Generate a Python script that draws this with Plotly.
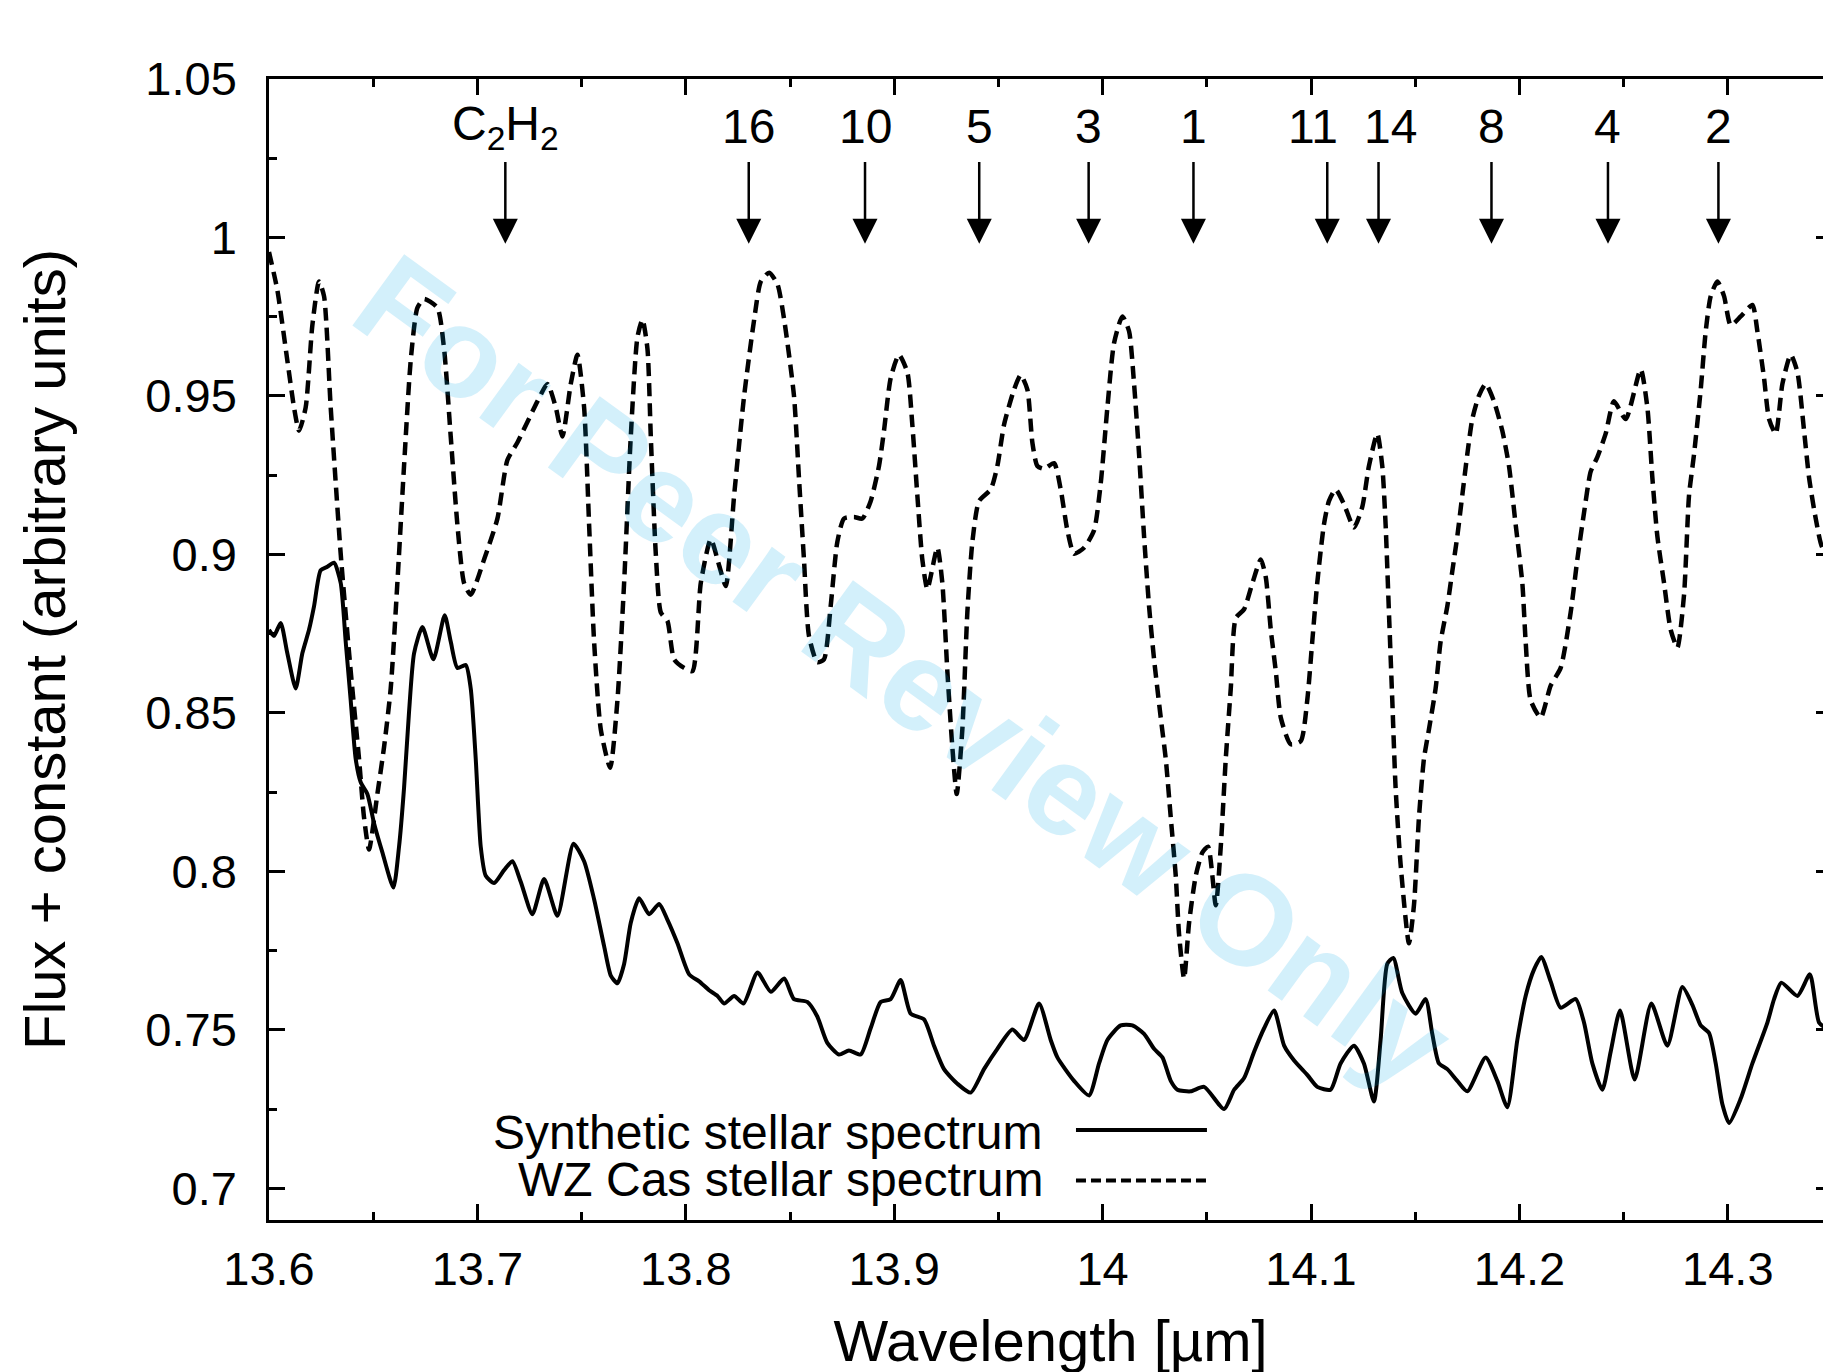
import plotly.graph_objects as go

# ---------------- data ----------------
wz_wavelength = [13.6000, 13.6040, 13.6088, 13.6120, 13.6144, 13.6176, 13.6208, 13.6240, 13.6264, 13.6296,
                 13.6344, 13.6392, 13.6432, 13.6456, 13.6480, 13.6520, 13.6552, 13.6584, 13.6616, 13.6648,
                 13.6680, 13.6712, 13.6744, 13.6808, 13.6840, 13.6872, 13.6904, 13.6936, 13.6968, 13.7032,
                 13.7096, 13.7144, 13.7192, 13.7288, 13.7336, 13.7376, 13.7408, 13.7448, 13.7480, 13.7512,
                 13.7536, 13.7560, 13.7592, 13.7637, 13.7672, 13.7704, 13.7736, 13.7768, 13.7792, 13.7816,
                 13.7832, 13.7856, 13.7880, 13.7912, 13.7944, 13.7992, 13.8032, 13.8072, 13.8120, 13.8160,
                 13.8192, 13.8232, 13.8280, 13.8328, 13.8360, 13.8400, 13.8440, 13.8472, 13.8519, 13.8543,
                 13.8567, 13.8591, 13.8631, 13.8663, 13.8695, 13.8727, 13.8759, 13.8807, 13.8847, 13.8887,
                 13.8927, 13.8951, 13.8983, 13.9023, 13.9063, 13.9087, 13.9111, 13.9135, 13.9159, 13.9207,
                 13.9231, 13.9255, 13.9279, 13.9300, 13.9327, 13.9351, 13.9375, 13.9407, 13.9463, 13.9495,
                 13.9527, 13.9575, 13.9607, 13.9639, 13.9663, 13.9687, 13.9719, 13.9767, 13.9799, 13.9831,
                 13.9863, 13.9911, 13.9959, 13.9991, 14.0023, 14.0055, 14.0095, 14.0127, 14.0151, 14.0175,
                 14.0199, 14.0223, 14.0247, 14.0279, 14.0303, 14.0327, 14.0351, 14.0367, 14.0391, 14.0415,
                 14.0447, 14.0479, 14.0506, 14.0543, 14.0567, 14.0591, 14.0615, 14.0639, 14.0679, 14.0719,
                 14.0759, 14.0783, 14.0807, 14.0831, 14.0855, 14.0903, 14.0951, 14.0982, 14.1006, 14.1030,
                 14.1062, 14.1086, 14.1118, 14.1158, 14.1206, 14.1246, 14.1278, 14.1318, 14.1342, 14.1358,
                 14.1374, 14.1390, 14.1406, 14.1430, 14.1470, 14.1494, 14.1518, 14.1542, 14.1566, 14.1598,
                 14.1622, 14.1654, 14.1678, 14.1702, 14.1726, 14.1750, 14.1774, 14.1806, 14.1838, 14.1878,
                 14.1918, 14.1950, 14.1982, 14.2014, 14.2030, 14.2054, 14.2102, 14.2150, 14.2198, 14.2246,
                 14.2278, 14.2310, 14.2342, 14.2374, 14.2414, 14.2454, 14.2510, 14.2582, 14.2614, 14.2638,
                 14.2662, 14.2694, 14.2726, 14.2758, 14.2790, 14.2814, 14.2838, 14.2870, 14.2894, 14.2918,
                 14.2950, 14.2982, 14.3014, 14.3062, 14.3118, 14.3142, 14.3174, 14.3198, 14.3230, 14.3262,
                 14.3302, 14.3334, 14.3366, 14.3390, 14.3422, 14.3454, 14.3494]
wz_flux = [0.9954, 0.9834, 0.9612, 0.9464, 0.9390, 0.9464, 0.9723, 0.9861, 0.9815, 0.9464,
           0.9002, 0.8632, 0.8355, 0.8170, 0.8069, 0.8244, 0.8392, 0.8577, 0.8910, 0.9279,
           0.9612, 0.9778, 0.9806, 0.9778, 0.9649, 0.9372, 0.9094, 0.8910, 0.8873, 0.8984,
           0.9113, 0.9298, 0.9353, 0.9483, 0.9538, 0.9464, 0.9372, 0.9538, 0.9630, 0.9464,
           0.9094, 0.8725, 0.8448, 0.8327, 0.8540, 0.8910, 0.9372, 0.9686, 0.9741, 0.9649,
           0.9372, 0.9002, 0.8817, 0.8790, 0.8669, 0.8642, 0.8632, 0.8910, 0.9048, 0.8965,
           0.8900, 0.9187, 0.9501, 0.9741, 0.9861, 0.9889, 0.9852, 0.9741, 0.9501, 0.9242,
           0.8984, 0.8743, 0.8660, 0.8669, 0.8836, 0.9039, 0.9113, 0.9118, 0.9113, 0.9168,
           0.9279, 0.9390, 0.9556, 0.9630, 0.9575, 0.9409, 0.9187, 0.8984, 0.8891, 0.9021,
           0.8910, 0.8632, 0.8392, 0.8244, 0.8448, 0.8817, 0.9039, 0.9168, 0.9205, 0.9279,
           0.9409, 0.9520, 0.9566, 0.9520, 0.9353, 0.9279, 0.9270, 0.9288, 0.9205, 0.9076,
           0.9002, 0.9021, 0.9076, 0.9224, 0.9464, 0.9667, 0.9751, 0.9704, 0.9538, 0.9316,
           0.9057, 0.8836, 0.8669, 0.8485, 0.8355, 0.8170, 0.7986, 0.7801, 0.7662, 0.7838,
           0.7986, 0.8060, 0.8078, 0.7893, 0.8078, 0.8355, 0.8577, 0.8799, 0.8827, 0.8910,
           0.8984, 0.8928, 0.8762, 0.8632, 0.8485, 0.8401, 0.8411, 0.8540, 0.8725, 0.8910,
           0.9094, 0.9168, 0.9205, 0.9159, 0.9085, 0.9150, 0.9279, 0.9381, 0.9279, 0.9094,
           0.8817, 0.8540, 0.8263, 0.8022, 0.7773, 0.7893, 0.8170, 0.8355, 0.8448, 0.8577,
           0.8725, 0.8836, 0.8947, 0.9057, 0.9187, 0.9316, 0.9427, 0.9501, 0.9538, 0.9483,
           0.9390, 0.9279, 0.9094, 0.8910, 0.8725, 0.8540, 0.8485, 0.8586, 0.8642, 0.8817,
           0.8984, 0.9131, 0.9261, 0.9307, 0.9381, 0.9483, 0.9427, 0.9584, 0.9464, 0.9242,
           0.9057, 0.8910, 0.8762, 0.8706, 0.8873, 0.9187, 0.9316, 0.9520, 0.9704, 0.9815,
           0.9861, 0.9815, 0.9723, 0.9751, 0.9787, 0.9704, 0.9556, 0.9427, 0.9381, 0.9538,
           0.9630, 0.9575, 0.9390, 0.9242, 0.9113, 0.9021, 0.9002]

syn_wavelength = [13.6000, 13.6024, 13.6056, 13.6088, 13.6128, 13.6160, 13.6192, 13.6216, 13.6248, 13.6280,
                  13.6312, 13.6344, 13.6368, 13.6392, 13.6416, 13.6440, 13.6472, 13.6504, 13.6544, 13.6597,
                  13.6624, 13.6648, 13.6672, 13.6696, 13.6736, 13.6789, 13.6843, 13.6872, 13.6904, 13.6944,
                  13.6968, 13.6992, 13.7016, 13.7040, 13.7080, 13.7128, 13.7168, 13.7208, 13.7264, 13.7320,
                  13.7384, 13.7461, 13.7512, 13.7560, 13.7608, 13.7640, 13.7672, 13.7704, 13.7736, 13.7776,
                  13.7824, 13.7872, 13.7912, 13.7960, 13.8016, 13.8064, 13.8112, 13.8152, 13.8184, 13.8232,
                  13.8277, 13.8344, 13.8408, 13.8472, 13.8519, 13.8583, 13.8631, 13.8679, 13.8735, 13.8783,
                  13.8839, 13.8887, 13.8935, 13.8983, 13.9031, 13.9079, 13.9143, 13.9191, 13.9239, 13.9303,
                  13.9367, 13.9431, 13.9495, 13.9567, 13.9623, 13.9695, 13.9751, 13.9783, 13.9863, 13.9935,
                  13.9983, 14.0023, 14.0087, 14.0143, 14.0199, 14.0247, 14.0287, 14.0327, 14.0359, 14.0423,
                  14.0487, 14.0583, 14.0631, 14.0679, 14.0727, 14.0775, 14.0823, 14.0871, 14.0919, 14.0983,
                  14.1030, 14.1094, 14.1142, 14.1206, 14.1254, 14.1302, 14.1334, 14.1366, 14.1395, 14.1438,
                  14.1502, 14.1550, 14.1582, 14.1614, 14.1654, 14.1702, 14.1750, 14.1838, 14.1894, 14.1942,
                  14.1990, 14.2030, 14.2070, 14.2105, 14.2150, 14.2198, 14.2270, 14.2310, 14.2350, 14.2398,
                  14.2438, 14.2483, 14.2553, 14.2633, 14.2710, 14.2782, 14.2830, 14.2870, 14.2910, 14.2942,
                  14.2974, 14.3006, 14.3062, 14.3118, 14.3190, 14.3222, 14.3257, 14.3334, 14.3394, 14.3438,
                  14.3478, 14.3502]
syn_flux = [0.8762, 0.8743, 0.8784, 0.8688, 0.8577, 0.8688, 0.8762, 0.8836, 0.8950, 0.8961,
            0.8974, 0.8910, 0.8725, 0.8540, 0.8355, 0.8281, 0.8244, 0.8152, 0.8060, 0.7949,
            0.8078, 0.8263, 0.8503, 0.8688, 0.8771, 0.8669, 0.8808, 0.8725, 0.8642, 0.8651,
            0.8577, 0.8355, 0.8078, 0.7986, 0.7963, 0.8004, 0.8032, 0.7967, 0.7865, 0.7976,
            0.7860, 0.8087, 0.8032, 0.7912, 0.7764, 0.7671, 0.7647, 0.7708, 0.7838, 0.7915,
            0.7865, 0.7897, 0.7847, 0.7773, 0.7675, 0.7653, 0.7625, 0.7607, 0.7583, 0.7607,
            0.7583, 0.7681, 0.7620, 0.7662, 0.7597, 0.7588, 0.7542, 0.7459, 0.7422, 0.7435,
            0.7422, 0.7505, 0.7588, 0.7597, 0.7657, 0.7551, 0.7533, 0.7450, 0.7376, 0.7330,
            0.7302, 0.7376, 0.7440, 0.7501, 0.7468, 0.7583, 0.7468, 0.7413, 0.7339, 0.7293,
            0.7394, 0.7468, 0.7514, 0.7514, 0.7487, 0.7440, 0.7413, 0.7339, 0.7311, 0.7306,
            0.7320, 0.7250, 0.7311, 0.7348, 0.7431, 0.7505, 0.7561, 0.7450, 0.7403, 0.7357,
            0.7320, 0.7311, 0.7394, 0.7450, 0.7394, 0.7274, 0.7468, 0.7708, 0.7727, 0.7616,
            0.7551, 0.7597, 0.7487, 0.7394, 0.7376, 0.7339, 0.7306, 0.7413, 0.7339, 0.7256,
            0.7468, 0.7607, 0.7690, 0.7730, 0.7653, 0.7570, 0.7597, 0.7523, 0.7394, 0.7311,
            0.7431, 0.7561, 0.7343, 0.7583, 0.7450, 0.7635, 0.7579, 0.7514, 0.7490, 0.7394,
            0.7265, 0.7206, 0.7283, 0.7394, 0.7523, 0.7597, 0.7649, 0.7607, 0.7675, 0.7523,
            0.7505, 0.7533]

line_labels = ["C<sub>2</sub>H<sub>2</sub>", "16", "10", "5", "3", "1", "11", "14", "8", "4", "2"]
line_positions = [13.7134, 13.8302, 13.8860, 13.9408, 13.9933, 14.0436, 14.1078, 14.1324, 14.1866, 14.2425, 14.2955]
label_positions = [13.7134, 13.8302, 13.8860, 13.9408, 13.9933, 14.0436, 14.1010, 14.1380, 14.1866, 14.2425, 14.2955]

x_range = [13.6, 14.35]
y_range = [0.69, 1.05]

FONT = "Arial, Liberation Sans, Helvetica, sans-serif"

fig = go.Figure()
fig.add_trace(go.Scatter(x=wz_wavelength, y=wz_flux, mode="lines", name="WZ Cas stellar spectrum",
                         line=dict(color="black", width=4.5, dash="13px,7px", shape="spline", smoothing=0.6),
                         showlegend=False))
fig.add_trace(go.Scatter(x=syn_wavelength, y=syn_flux, mode="lines", name="Synthetic stellar spectrum",
                         line=dict(color="black", width=4, shape="spline", smoothing=0.6),
                         showlegend=False))

annotations = []
# watermark
annotations.append(dict(text="For Peer Review Only", xref="paper", yref="paper", x=0.4065, y=0.481,
                        showarrow=False, textangle=36, opacity=0.17,
                        font=dict(family=FONT, size=128, color="#00a8e8", weight=700)))
# line identification labels and arrows
for lab, lx in zip(line_labels, label_positions):
    annotations.append(dict(text=lab, x=lx, y=1.0350, xref="x", yref="y", showarrow=False,
                            font=dict(family=FONT, size=48, color="black")))
for pos in line_positions:
    annotations.append(dict(text="", x=pos, y=0.998, ax=pos, ay=1.0243, xref="x", yref="y",
                            axref="x", ayref="y", showarrow=True, arrowhead=2, arrowsize=2.0,
                            arrowwidth=2.5, arrowcolor="black"))
# legend texts (text left of the sample line, as in the original)
annotations.append(dict(text="Synthetic stellar spectrum", xref="paper", yref="paper", x=0.4965, y=0.0771,
                        xanchor="right", yanchor="middle", showarrow=False,
                        font=dict(family=FONT, size=48, color="black")))
annotations.append(dict(text="WZ Cas stellar spectrum", xref="paper", yref="paper", x=0.4965, y=0.0351,
                        xanchor="right", yanchor="middle", showarrow=False,
                        font=dict(family=FONT, size=48, color="black")))

shapes = [
    dict(type="line", xref="paper", yref="paper", x0=0.5163, x1=0.6001, y0=0.0789, y1=0.0789,
         line=dict(color="black", width=4)),
    dict(type="line", xref="paper", yref="paper", x0=0.5163, x1=0.6001, y0=0.0346, y1=0.0346,
         line=dict(color="black", width=4, dash="10px,5px")),
]

axis_common = dict(showline=True, linewidth=2.5, linecolor="black", mirror="allticks",
                   ticks="inside", ticklen=16, tickwidth=2.5, tickcolor="black",
                   showgrid=False, zeroline=False, automargin=False,
                   tickfont=dict(family=FONT, size=47, color="black"))

# the page body adds a small margin, so the figure is sized to fit inside the window
fig.update_layout(
    width=1825, height=1365,
    margin=dict(l=261, r=1, t=71, b=153),
    paper_bgcolor="white", plot_bgcolor="white",
    xaxis=dict(range=x_range, tick0=13.6, dtick=0.1, ticklabelstandoff=6,
               title=dict(text="Wavelength [µm]", font=dict(family=FONT, size=58, color="black"), standoff=29),
               minor=dict(dtick=0.05, ticks="inside", ticklen=8, tickwidth=2.5, tickcolor="black", showgrid=False),
               **axis_common),
    yaxis=dict(range=y_range, tick0=0.7, dtick=0.05, ticklabelstandoff=20,
               title=dict(text="Flux + constant (arbitrary units)", font=dict(family=FONT, size=58, color="black"), standoff=62),
               minor=dict(dtick=0.025, ticks="inside", ticklen=8, tickwidth=2.5, tickcolor="black", showgrid=False),
               **axis_common),
    annotations=annotations,
    shapes=shapes,
)

fig.write_html("out.html")
